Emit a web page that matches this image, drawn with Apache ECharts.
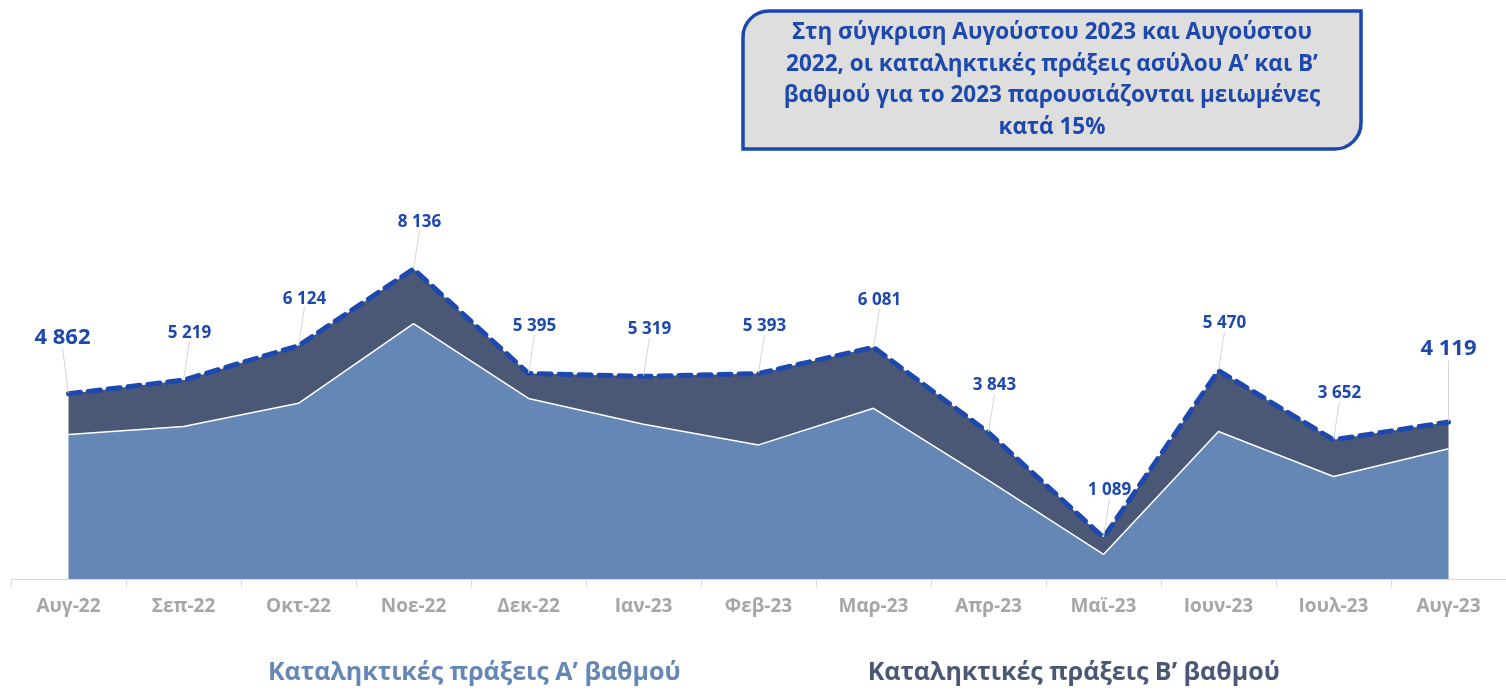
<!DOCTYPE html>
<html lang="el">
<head>
  <meta charset="UTF-8">
  <title>Καταληκτικές πράξεις</title>
  <script src="https://cdn.jsdelivr.net/npm/echarts@6/dist/echarts.min.js"></script>
  <style>
    html, body { margin: 0; padding: 0; background: #fff; }
    #wrap { width: 1506px; height: 693px; }
  </style>
</head>
<body>
<div id="wrap"></div>
<script>
  // μήνες
  const months = ["Αυγ-22", "Σεπ-22", "Οκτ-22", "Νοε-22", "Δεκ-22", "Ιαν-23", "Φεβ-23",
    "Μαρ-23", "Απρ-23", "Μαϊ-23", "Ιουν-23", "Ιουλ-23", "Αυγ-23"]
  // Α' βαθμού (εκτίμηση από το γράφημα)
  const firstDegree = [3790, 4000, 4610, 6700, 4740, 4060, 3520, 4480, 2590, 645, 3870, 2690, 3420]
  // Β' βαθμού
  const secondDegree = [1072, 1219, 1514, 1436, 655, 1259, 1873, 1601, 1253, 444, 1600, 962, 699]
  // σύνολο (ετικέτες)
  const totals = [4862, 5219, 6124, 8136, 5395, 5319, 5393, 6081, 3843, 1089, 5470, 3652, 4119]

  const nameA = "Καταληκτικές πράξεις Α’ βαθμού"
  const nameB = "Καταληκτικές πράξεις Β’ βαθμού"
  const noteText = "Στη σύγκριση Αυγούστου 2023 και Αυγούστου\n2022, οι καταληκτικές πράξεις ασύλου Α’ και Β’\nβαθμού για το 2023 παρουσιάζονται μειωμένες\nκατά 15%"

  const font = "'Open Sans', 'Noto Sans', sans-serif"
  const blue = "#1d48ad"

  const fmt = v => String(v).replace(/\B(?=(\d{3})+(?!\d))/g, " ")

  const last = totals.length - 1
  const totalData = totals.map((v, i) => {
    if (i === 0 || i === last) {
      return { value: v, label: { fontSize: 22 } }
    }
    return v
  })

  const chart = echarts.init(document.querySelector("#wrap"))

  const ops = {
    animation: false,
    textStyle: { fontFamily: font },
    grid: { left: 11, right: -4, top: 198, bottom: 114 },
    legend: {
      left: 257,
      bottom: 3,
      itemWidth: 0,
      itemHeight: 0,
      itemGap: 181,
      selectedMode: false,
      data: [
        { name: nameA, textStyle: { color: "#6587b6" } },
        { name: nameB, textStyle: { color: "#4a5775" } }
      ],
      textStyle: { fontSize: 25, fontWeight: "bold", fontFamily: font }
    },
    xAxis: {
      type: "category",
      data: months,
      boundaryGap: true,
      axisLine: { lineStyle: { color: "#d9d9d9", width: 1 } },
      axisTick: { show: true, length: 8, lineStyle: { color: "#d9d9d9" } },
      axisLabel: { color: "#a6a6a6", fontSize: 19, fontWeight: "bold", margin: 18, fontFamily: font }
    },
    yAxis: {
      type: "value",
      show: false,
      min: 0,
      max: 10000,
      splitLine: { show: false }
    },
    series: [
      {
        name: nameA,
        type: "line",
        stack: "total",
        data: firstDegree,
        showSymbol: false,
        z: 3,
        lineStyle: { color: "#ffffff", width: 1.5 },
        itemStyle: { color: "#6587b6" },
        areaStyle: { color: "#6587b6", opacity: 1 }
      },
      {
        name: nameB,
        type: "line",
        stack: "total",
        data: secondDegree,
        showSymbol: false,
        z: 2,
        lineStyle: { width: 0 },
        itemStyle: { color: "#4a5775" },
        areaStyle: { color: "#4a5775", opacity: 1 }
      },
      {
        name: "Σύνολο",
        type: "line",
        data: totalData,
        showSymbol: true,
        symbol: "circle",
        symbolSize: 1,
        z: 4,
        lineStyle: { color: blue, width: 5, type: [12, 8], cap: "round" },
        itemStyle: { color: blue },
        label: {
          show: true,
          position: "top",
          distance: 4,
          color: blue,
          fontSize: 17,
          fontWeight: "bold",
          fontFamily: font,
          formatter: p => fmt(p.value)
        },
        labelLine: { show: true, lineStyle: { color: "#d6d6d6", width: 1 } },
        labelLayout: p => {
          if (p.dataIndex === last) return { dx: 0, dy: -58 }
          if (p.dataIndex === 0) return { dx: -6, dy: -41 }
          return { dx: 6, dy: -34 }
        }
      }
    ],
    graphic: [
      {
        type: "rect",
        x: 743,
        y: 11,
        shape: { width: 618, height: 138, r: [26, 0, 26, 0] },
        style: { fill: "#dedede", stroke: "#1a47b0", lineWidth: 3.5 },
        z: 10
      },
      {
        type: "text",
        x: 1052,
        y: 17,
        style: {
          text: noteText,
          fill: blue,
          font: "bold 22.5px " + font,
          align: "center",
          verticalAlign: "top",
          lineHeight: 31.5
        },
        z: 11
      }
    ]
  }

  chart.setOption(ops)
</script>
</body>
</html>
